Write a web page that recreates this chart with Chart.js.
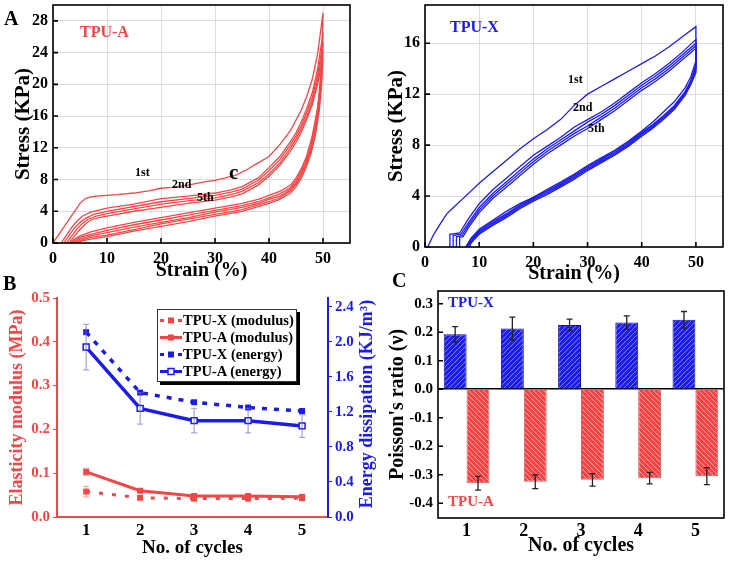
<!DOCTYPE html>
<html>
<head>
<meta charset="utf-8">
<script src="https://cdn.jsdelivr.net/npm/chart.js@4/dist/chart.umd.min.js"></script>
<style>
  body { margin: 0; background: #fff; width: 730px; height: 563px; position: relative; overflow: hidden;
         font-family: 'Liberation Serif', 'Times New Roman', serif; font-weight: bold; }
  canvas { position: absolute; }
  .t { position: absolute; line-height: 1; white-space: nowrap; }
  .legend { position: absolute; left: 157px; top: 309px; width: 138px; height: 71px; background: #fff;
            border: 1px solid #333; box-shadow: 3px 3px 0 #000; font-size: 14.5px; }
  .legend div { position: absolute; left: 0; height: 17px; line-height: 17px; }
  .legend svg { position: absolute; left: 2px; top: 4px; }
  .legend span { position: absolute; left: 25px; white-space: nowrap; }
</style>
</head>
<body>
<canvas id="a1" width="365" height="283" style="left:0;top:0"></canvas>
<canvas id="a2" width="365" height="286" style="left:365px;top:0"></canvas>
<canvas id="b" width="380" height="281" style="left:0;top:282px"></canvas>
<canvas id="c" width="350" height="281" style="left:380px;top:282px"></canvas>

<div class="t" style="left:4px;top:8px;font-size:20px">A</div>
<div class="t" style="left:80px;top:24px;font-size:16px;color:#f04848">TPU-A</div>
<div class="t" style="left:135px;top:166px;font-size:12px">1st</div>
<div class="t" style="left:172px;top:178px;font-size:12px">2nd</div>
<div class="t" style="left:197px;top:191px;font-size:12px">5th</div>
<div class="t" style="left:229px;top:162px;font-size:21px">c</div>

<div class="t" style="left:450px;top:19px;font-size:16px;color:#1c1ce6">TPU-X</div>
<div class="t" style="left:568px;top:73px;font-size:12px">1st</div>
<div class="t" style="left:573px;top:101px;font-size:12px">2nd</div>
<div class="t" style="left:588px;top:122px;font-size:12px">5th</div>

<div class="t" style="left:3px;top:273px;font-size:20px">B</div>
<div class="t" style="left:366px;top:404px;font-size:18px;color:#1c1ce6;transform:translate(-50%,-50%) rotate(-90deg)">Energy dissipation (KJ/m³)</div>
<div class="legend">
  <div style="top:2px"><svg width="22" height="9"><line x1="0" y1="4.5" x2="22" y2="4.5" stroke="#f04848" stroke-width="3" stroke-dasharray="4,5"/><rect x="8" y="1.5" width="6" height="6" fill="#f04848"/></svg><span>TPU-X (modulus)</span></div>
  <div style="top:19px"><svg width="22" height="9"><line x1="0" y1="4.5" x2="22" y2="4.5" stroke="#f04848" stroke-width="3"/><rect x="8" y="1.5" width="6" height="6" fill="#f04848"/></svg><span>TPU-A (modulus)</span></div>
  <div style="top:36px"><svg width="22" height="9"><line x1="0" y1="4.5" x2="22" y2="4.5" stroke="#1c1ce6" stroke-width="3" stroke-dasharray="4,5"/><rect x="8" y="1.5" width="6" height="6" fill="#1c1ce6"/></svg><span>TPU-X (energy)</span></div>
  <div style="top:53px"><svg width="22" height="9"><line x1="0" y1="4.5" x2="22" y2="4.5" stroke="#1c1ce6" stroke-width="3"/><rect x="8" y="1.5" width="6" height="6" fill="#fff" stroke="#1c1ce6" stroke-width="1.5"/></svg><span>TPU-A (energy)</span></div>
</div>

<div class="t" style="left:392px;top:270px;font-size:20px">C</div>
<div class="t" style="left:448px;top:295px;font-size:15px;color:#1c1ce6">TPU-X</div>
<div class="t" style="left:448px;top:494px;font-size:15px;color:#f04848">TPU-A</div>

<script>
// ---------- data: TPU-A stress-strain loops, [strain %, stress KPa], load then unload ----------
const tpuA1 = [[0,0],[1,1.0],[2,2.0],[3,3.0],[4,4.0],[5,5.0],[6,5.6],[7,5.8],[8,5.9],[10,6.0],[12,6.1],[15,6.3],[18,6.6],[20,6.9],[22,7.0],[25,7.3],[28,7.7],[30,7.9],[32,8.2],[34,8.6],[36,9.3],[38,10.1],[40,10.9],[42,12.4],[44,14.2],[46,16.8],[47,18.5],[48,20.6],[49,23.8],[50,29.0],
  [49.8,24.5],[49.5,20.5],[49,17.0],[48,13.5],[47,11.0],[46,9.4],[45,8.2],[44,7.3],[42,6.5],[40,6.0],[38,5.5],[35,5.0],[30,4.4],[25,3.8],[20,3.2],[15,2.6],[10,1.9],[7,1.4],[5,0.9],[4,0.5],[3.2,0]];
const tpuA2 = [[1.5,0],[2.5,1.0],[3.5,2.0],[4.5,2.8],[5.5,3.4],[7,3.9],[10,4.4],[15,4.9],[20,5.6],[25,5.9],[30,6.3],[33,6.7],[35,7.1],[38,8.2],[40,9.5],[42,10.9],[44,12.8],[45,13.9],[46,15.3],[47,17.0],[48,18.9],[49,21.9],[50,26.5],
  [49.7,22.0],[49.3,18.5],[48.6,15.0],[47.8,12.4],[46.8,10.3],[46,9.1],[45,7.9],[44,7.0],[42,6.2],[40,5.7],[38,5.2],[35,4.7],[30,4.1],[25,3.5],[20,2.9],[15,2.3],[10,1.6],[7,1.1],[5,0.7],[4,0.3],[3.5,0]];
const tpuA3 = [[2,0],[3,1.0],[4,1.9],[5,2.6],[6,3.1],[7.5,3.6],[10,4.0],[15,4.6],[20,5.2],[25,5.6],[30,6.0],[33,6.4],[35,6.8],[38,7.9],[40,9.1],[42,10.5],[44,12.4],[45,13.5],[46,14.8],[47,16.5],[48,18.3],[49,21.1],[50,25.3],
  [49.7,21.0],[49.3,17.8],[48.6,14.5],[47.8,12.0],[46.8,10.0],[46,8.8],[45,7.6],[44,6.8],[42,5.9],[40,5.5],[38,5.0],[35,4.5],[30,3.9],[25,3.2],[20,2.6],[15,2.0],[10,1.3],[7,0.9],[5,0.5],[3.8,0]];
const tpuA4 = [[2.5,0],[3.5,0.9],[4.5,1.8],[5.5,2.5],[6.5,3.0],[8,3.4],[10,3.7],[15,4.3],[20,4.9],[25,5.3],[30,5.7],[33,6.1],[35,6.5],[38,7.6],[40,8.7],[42,10.1],[44,12.0],[45,13.1],[46,14.4],[47,16.0],[48,17.8],[49,20.5],[50,24.3],
  [49.7,20.3],[49.3,17.2],[48.6,14.0],[47.8,11.6],[46.8,9.7],[46,8.5],[45,7.4],[44,6.6],[42,5.7],[40,5.2],[38,4.8],[35,4.2],[30,3.6],[25,3.0],[20,2.4],[15,1.7],[10,1.0],[7,0.7],[5,0.3],[4.1,0]];
const tpuA5 = [[3,0],[4,0.9],[5,1.7],[6,2.4],[7,2.9],[8.5,3.2],[10,3.4],[15,4.0],[20,4.5],[25,5.0],[30,5.4],[33,5.8],[35,6.2],[38,7.3],[40,8.4],[42,9.8],[44,11.6],[45,12.7],[46,14.0],[47,15.6],[48,17.4],[49,20.0],[50,23.4],
  [49.7,19.6],[49.3,16.6],[48.6,13.6],[47.8,11.3],[46.8,9.4],[46,8.2],[45,7.1],[44,6.3],[42,5.5],[40,5.0],[38,4.6],[35,4.0],[30,3.4],[25,2.7],[20,2.1],[15,1.5],[10,0.8],[7,0.5],[5,0.2],[4.4,0]];

// ---------- data: TPU-X stress-strain loops ----------
const tpuX1 = [[0.5,0],[1.5,0.9],[2.5,1.6],[4,2.6],[5,3.0],[7,3.8],[10,5.0],[12.5,5.9],[15,6.8],[17.5,7.7],[20,8.5],[22.5,9.2],[25,10.0],[27.5,11.1],[30,12.0],[32.5,12.6],[35,13.2],[37.5,13.8],[40,14.4],[42.5,15.0],[45,15.7],[47.5,16.5],[50,17.3],
  [50,14.6],[49,13.3],[48,12.5],[46,11.4],[44,10.6],[42,9.8],[40,9.1],[37.5,8.3],[35,7.6],[32.5,7.0],[30,6.4],[27.5,5.7],[25,5.1],[22.5,4.5],[20,3.9],[17.5,3.4],[15,2.8],[12.5,2.1],[10,1.4],[8.5,0.7],[7.5,0]];
const tpuX2 = [[4.6,0],[4.6,1.0],[6.4,1.1],[8,2.2],[10,3.4],[12.5,4.5],[15,5.4],[17.5,6.3],[20,7.2],[22.5,7.9],[25,8.6],[27.5,9.4],[30,10.0],[32.5,10.6],[35,11.3],[37.5,12.1],[40,12.9],[42.5,13.6],[45,14.4],[47.5,15.3],[50,16.3],
  [50,14.3],[49,13.0],[48,12.2],[46,11.1],[44,10.3],[42,9.6],[40,9.0],[37.5,8.2],[35,7.5],[32.5,6.9],[30,6.3],[27.5,5.6],[25,5.0],[22.5,4.4],[20,3.9],[17.5,3.3],[15,2.6],[12.5,2.0],[10,1.3],[8.5,0.6],[7.6,0]];
const tpuX3 = [[5.2,0],[5.2,0.9],[6.6,1.0],[8,1.9],[10,3.1],[12.5,4.2],[15,5.1],[17.5,6.0],[20,6.9],[22.5,7.7],[25,8.4],[27.5,9.1],[30,9.8],[32.5,10.4],[35,11.1],[37.5,11.9],[40,12.7],[42.5,13.4],[45,14.2],[47.5,15.1],[50,16.0],
  [50,14.1],[49,12.9],[48,12.1],[46,11.0],[44,10.2],[42,9.5],[40,8.9],[37.5,8.1],[35,7.4],[32.5,6.8],[30,6.2],[27.5,5.5],[25,4.9],[22.5,4.3],[20,3.8],[17.5,3.2],[15,2.5],[12.5,1.9],[10,1.2],[8.5,0.5],[7.8,0]];
const tpuX4 = [[5.8,0],[5.8,0.8],[6.8,0.9],[8,1.7],[10,2.9],[12.5,4.0],[15,4.9],[17.5,5.8],[20,6.7],[22.5,7.5],[25,8.2],[27.5,8.9],[30,9.5],[32.5,10.2],[35,10.9],[37.5,11.7],[40,12.5],[42.5,13.2],[45,14.0],[47.5,14.9],[50,15.8],
  [50,13.9],[49,12.8],[48,12.0],[46,10.9],[44,10.1],[42,9.4],[40,8.8],[37.5,8.0],[35,7.3],[32.5,6.7],[30,6.1],[27.5,5.4],[25,4.8],[22.5,4.2],[20,3.7],[17.5,3.1],[15,2.4],[12.5,1.8],[10,1.1],[8.5,0.4],[8,0]];
const tpuX5 = [[6.4,0],[6.4,0.8],[7,0.8],[8,1.5],[10,2.7],[12.5,3.8],[15,4.7],[17.5,5.6],[20,6.5],[22.5,7.3],[25,8.0],[27.5,8.7],[30,9.3],[32.5,10.0],[35,10.7],[37.5,11.5],[40,12.3],[42.5,13.0],[45,13.8],[47.5,14.7],[50,15.6],
  [50,13.7],[49,12.7],[48,11.9],[46,10.8],[44,10.0],[42,9.3],[40,8.7],[37.5,7.9],[35,7.2],[32.5,6.6],[30,6.0],[27.5,5.3],[25,4.7],[22.5,4.1],[20,3.6],[17.5,3.0],[15,2.3],[12.5,1.7],[10,1.0],[8.5,0.3],[8.2,0]];

// ---------- data: panel B ----------
const cycles = [1, 2, 3, 4, 5];
const modulusX = [0.058, 0.044, 0.042, 0.042, 0.043];
const modulusXErr = [0.012, 0.005, 0.005, 0.005, 0.004];
const modulusA = [0.103, 0.060, 0.048, 0.048, 0.046];
const modulusAErr = [0.008, 0.004, 0.005, 0.005, 0.004];
const energyX = [2.11, 1.42, 1.31, 1.25, 1.21];
const energyA = [1.94, 1.24, 1.10, 1.10, 1.04];
const energyAErr = [0.26, 0.18, 0.14, 0.14, 0.13];

// ---------- data: panel C ----------
const cycleLabels = ['1', '2', '3', '4', '5'];
const poissonX = [0.193, 0.213, 0.226, 0.234, 0.244];
const poissonXErr = [0.027, 0.040, 0.020, 0.024, 0.029];
const poissonA = [-0.330, -0.325, -0.318, -0.312, -0.305];
const poissonAErr = [0.024, 0.024, 0.022, 0.020, 0.030];

const RED = '#f04848';
const BLUE = '#1c1ce6';

Chart.defaults.font.family = "'Liberation Serif', 'Times New Roman', serif";
Chart.defaults.font.weight = 'bold';
Chart.defaults.color = '#000';
Chart.defaults.animation = false;

// fix axis box sizes so the plot areas land where the figure has them
function fixW(w) { return s => { s.width = w; s.paddingTop = 0; s.paddingBottom = 0; }; }
function fixH(h) { return s => { s.height = h; s.paddingLeft = 0; s.paddingRight = 0; }; }
const fmt1 = v => Math.abs(v) < 1e-9 ? '0.0' : v.toFixed(1);

// box round the plot area + inward tick marks
const framePlugin = {
  id: 'frame',
  afterDraw(chart, args, o) {
    const { ctx, chartArea: a } = chart;
    ctx.save();
    ctx.strokeStyle = '#000';
    ctx.lineWidth = 1.6;
    if (o.box) ctx.strokeRect(a.left, a.top, a.right - a.left, a.bottom - a.top);
    (o.ticks || []).forEach(t => {
      const s = chart.scales[t.id];
      ctx.beginPath();
      s.ticks.forEach((tk, i) => {
        const p = s.getPixelForTick(i);
        if (s.isHorizontal()) { ctx.moveTo(p, a.bottom); ctx.lineTo(p, a.bottom - t.len); }
        else { ctx.moveTo(a.left, p); ctx.lineTo(a.left + t.len, p); }
      });
      ctx.stroke();
    });
    ctx.restore();
  }
};

// error bars from dataset.errors
const errorPlugin = {
  id: 'errorBars',
  afterDatasetsDraw(chart) {
    const ctx = chart.ctx;
    chart.data.datasets.forEach((ds, i) => {
      if (!ds.errors) return;
      const meta = chart.getDatasetMeta(i);
      const ys = chart.scales[meta.yAxisID];
      ctx.save();
      ctx.strokeStyle = ds.errorColor || '#222';
      ctx.lineWidth = 1.3;
      meta.data.forEach((el, j) => {
        const raw = ds.data[j];
        const v = typeof raw === 'object' ? raw.y : raw;
        const e = ds.errors[j];
        const top = ys.getPixelForValue(v + e), bot = ys.getPixelForValue(v - e);
        const x = el.x, w = ds.capWidth || 3;
        ctx.beginPath();
        ctx.moveTo(x, top); ctx.lineTo(x, bot);
        ctx.moveTo(x - w, top); ctx.lineTo(x + w, top);
        ctx.moveTo(x - w, bot); ctx.lineTo(x + w, bot);
        ctx.stroke();
      });
      ctx.restore();
    });
  }
};

function hatch(base, line, dir) {
  const c = document.createElement('canvas');
  c.width = c.height = 5;
  const g = c.getContext('2d');
  g.fillStyle = base;
  g.fillRect(0, 0, 5, 5);
  g.strokeStyle = line;
  g.lineWidth = 1;
  g.beginPath();
  if (dir > 0) { g.moveTo(-1, 6); g.lineTo(6, -1); g.moveTo(-1, 1); g.lineTo(1, -1); g.moveTo(4, 6); g.lineTo(6, 4); }
  else { g.moveTo(-1, -1); g.lineTo(6, 6); g.moveTo(-1, 4); g.lineTo(1, 6); g.moveTo(4, -1); g.lineTo(6, 1); }
  g.stroke();
  return g.createPattern(c, 'repeat');
}

function loopChart(id, loops, color, yMax, pad, yW, xH, yTitlePad) {
  return new Chart(document.getElementById(id), {
    type: 'scatter',
    data: {
      datasets: loops.map((loop, i) => ({
        label: 'cycle ' + (i + 1),
        data: loop.map(p => ({ x: p[0], y: p[1] })),
        showLine: true, borderColor: color, borderWidth: 1.3, pointRadius: 0, tension: 0
      }))
    },
    options: {
      responsive: false,
      layout: { padding: pad },
      plugins: { legend: { display: false }, tooltip: { enabled: false },
                 frame: { box: true, ticks: [{ id: 'x', len: 5 }, { id: 'y', len: 5 }] } },
      scales: {
        x: {
          type: 'linear', min: 0, max: 55,
          ticks: { stepSize: 10, includeBounds: false, font: { size: 16 }, padding: 6 },
          grid: { color: '#dcdcdc', drawTicks: false },
          border: { display: false },
          title: { display: true, text: 'Strain (%)', font: { size: 20 }, padding: { top: 0, bottom: 0 } },
          afterFit: fixH(xH)
        },
        y: {
          min: 0, max: yMax,
          ticks: { stepSize: 4, includeBounds: false, font: { size: 16 }, padding: 5 },
          grid: { color: '#dcdcdc', drawTicks: false },
          border: { display: false },
          title: { display: true, text: 'Stress (KPa)', font: { size: 21 }, padding: { top: yTitlePad } },
          afterFit: fixW(yW)
        }
      }
    },
    plugins: [framePlugin]
  });
}

loopChart('a1', [tpuA1, tpuA2, tpuA3, tpuA4, tpuA5], RED, 30, { top: 5, right: 15, left: 0, bottom: 0 }, 53, 40, 11);
loopChart('a2', [tpuX1, tpuX2, tpuX3, tpuX4, tpuX5], BLUE, 19, { top: 5, right: 7, left: 0, bottom: 0 }, 60, 39, 19);

// ---------- panel B ----------
const xy = arr => cycles.map((c, i) => ({ x: c, y: arr[i] }));
new Chart(document.getElementById('b'), {
  type: 'line',
  data: {
    datasets: [
      { label: 'TPU-X (modulus)', data: xy(modulusX), errors: modulusXErr, errorColor: 'rgba(240,72,72,0.45)', yAxisID: 'y',
        borderColor: RED, backgroundColor: RED, borderDash: [4, 9], borderWidth: 3, pointStyle: 'rect', pointRadius: 4.2, pointBorderWidth: 0 },
      { label: 'TPU-A (modulus)', data: xy(modulusA), errors: modulusAErr, errorColor: 'rgba(240,72,72,0.45)', yAxisID: 'y',
        borderColor: RED, backgroundColor: RED, borderWidth: 3, pointStyle: 'rect', pointRadius: 4.2, pointBorderWidth: 0 },
      { label: 'TPU-X (energy)', data: xy(energyX), yAxisID: 'y1',
        borderColor: BLUE, backgroundColor: BLUE, borderDash: [5, 7], borderWidth: 3.5, pointStyle: 'rect', pointRadius: 4.2, pointBorderWidth: 0 },
      { label: 'TPU-A (energy)', data: xy(energyA), errors: energyAErr, errorColor: 'rgba(110,110,190,0.6)', yAxisID: 'y1',
        borderColor: BLUE, backgroundColor: '#fff', borderWidth: 3.5, pointStyle: 'rect', pointRadius: 4.2, pointBorderWidth: 1.5 }
    ]
  },
  options: {
    responsive: false,
    layout: { padding: { top: 16, right: 0, left: 0, bottom: 0 } },
    plugins: { legend: { display: false }, tooltip: { enabled: false } },
    scales: {
      x: {
        type: 'linear', min: 0.46, max: 5.48,
        ticks: { stepSize: 1, includeBounds: false, font: { size: 17 }, padding: 3 },
        grid: { display: false, drawTicks: false },
        border: { color: RED, width: 2 },
        title: { display: true, text: 'No. of cycles', font: { size: 19 }, padding: { top: 0, bottom: 4 } },
        afterFit: fixH(46)
      },
      y: {
        position: 'left', min: 0, max: 0.5,
        ticks: { stepSize: 0.1, includeBounds: false, font: { size: 15 }, color: RED, padding: 3, callback: fmt1 },
        grid: { drawOnChartArea: false, tickLength: 4, tickColor: RED },
        border: { color: RED, width: 2 },
        title: { display: true, text: 'Elasticity modulus (MPa)', color: RED, font: { size: 18 }, padding: { top: 7 } },
        afterFit: fixW(57)
      },
      y1: {
        position: 'right', min: 0, max: 2.5,
        ticks: { stepSize: 0.4, includeBounds: false, font: { size: 15 }, color: BLUE, padding: 3, callback: fmt1 },
        grid: { drawOnChartArea: false, tickLength: 4, tickColor: BLUE },
        border: { color: BLUE, width: 2 },
        afterFit: fixW(52)
      }
    }
  },
  plugins: [errorPlugin]
});

// ---------- panel C ----------
new Chart(document.getElementById('c'), {
  type: 'bar',
  data: {
    labels: cycleLabels,
    datasets: [
      { label: 'TPU-X', data: poissonX, errors: poissonXErr, backgroundColor: hatch('#1e1ee8', '#7a7aff', 1),
        borderColor: '#1010a0', borderWidth: 1, categoryPercentage: 0.8, barPercentage: 1, capWidth: 3 },
      { label: 'TPU-A', data: poissonA, errors: poissonAErr, backgroundColor: hatch('#f24646', '#ff9f9f', -1),
        borderColor: '#c86060', borderWidth: 1, categoryPercentage: 0.8, barPercentage: 1, capWidth: 3 }
    ]
  },
  options: {
    responsive: false,
    layout: { padding: { top: 9, right: 6, left: 0, bottom: 0 } },
    plugins: { legend: { display: false }, tooltip: { enabled: false },
               frame: { box: true, ticks: [{ id: 'y', len: 5 }] } },
    scales: {
      x: {
        ticks: { font: { size: 18 }, padding: 3 },
        grid: { display: false, drawTicks: false },
        border: { display: false },
        title: { display: true, text: 'No. of cycles', font: { size: 20 }, padding: { top: 0, bottom: 5 } },
        afterFit: fixH(45)
      },
      y: {
        min: -0.452, max: 0.345,
        ticks: { stepSize: 0.1, includeBounds: false, font: { size: 15 }, padding: 5, callback: fmt1 },
        grid: { drawTicks: false, lineWidth: 1.6,
                color: c => (c.tick && Math.abs(c.tick.value) < 1e-9) ? '#000' : 'rgba(0,0,0,0)' },
        border: { display: false },
        title: { display: true, text: "Poisson's ratio (ν)", font: { size: 20 }, padding: { top: 6 } },
        afterFit: fixW(58)
      }
    }
  },
  plugins: [framePlugin, errorPlugin]
});
</script>
</body>
</html>
